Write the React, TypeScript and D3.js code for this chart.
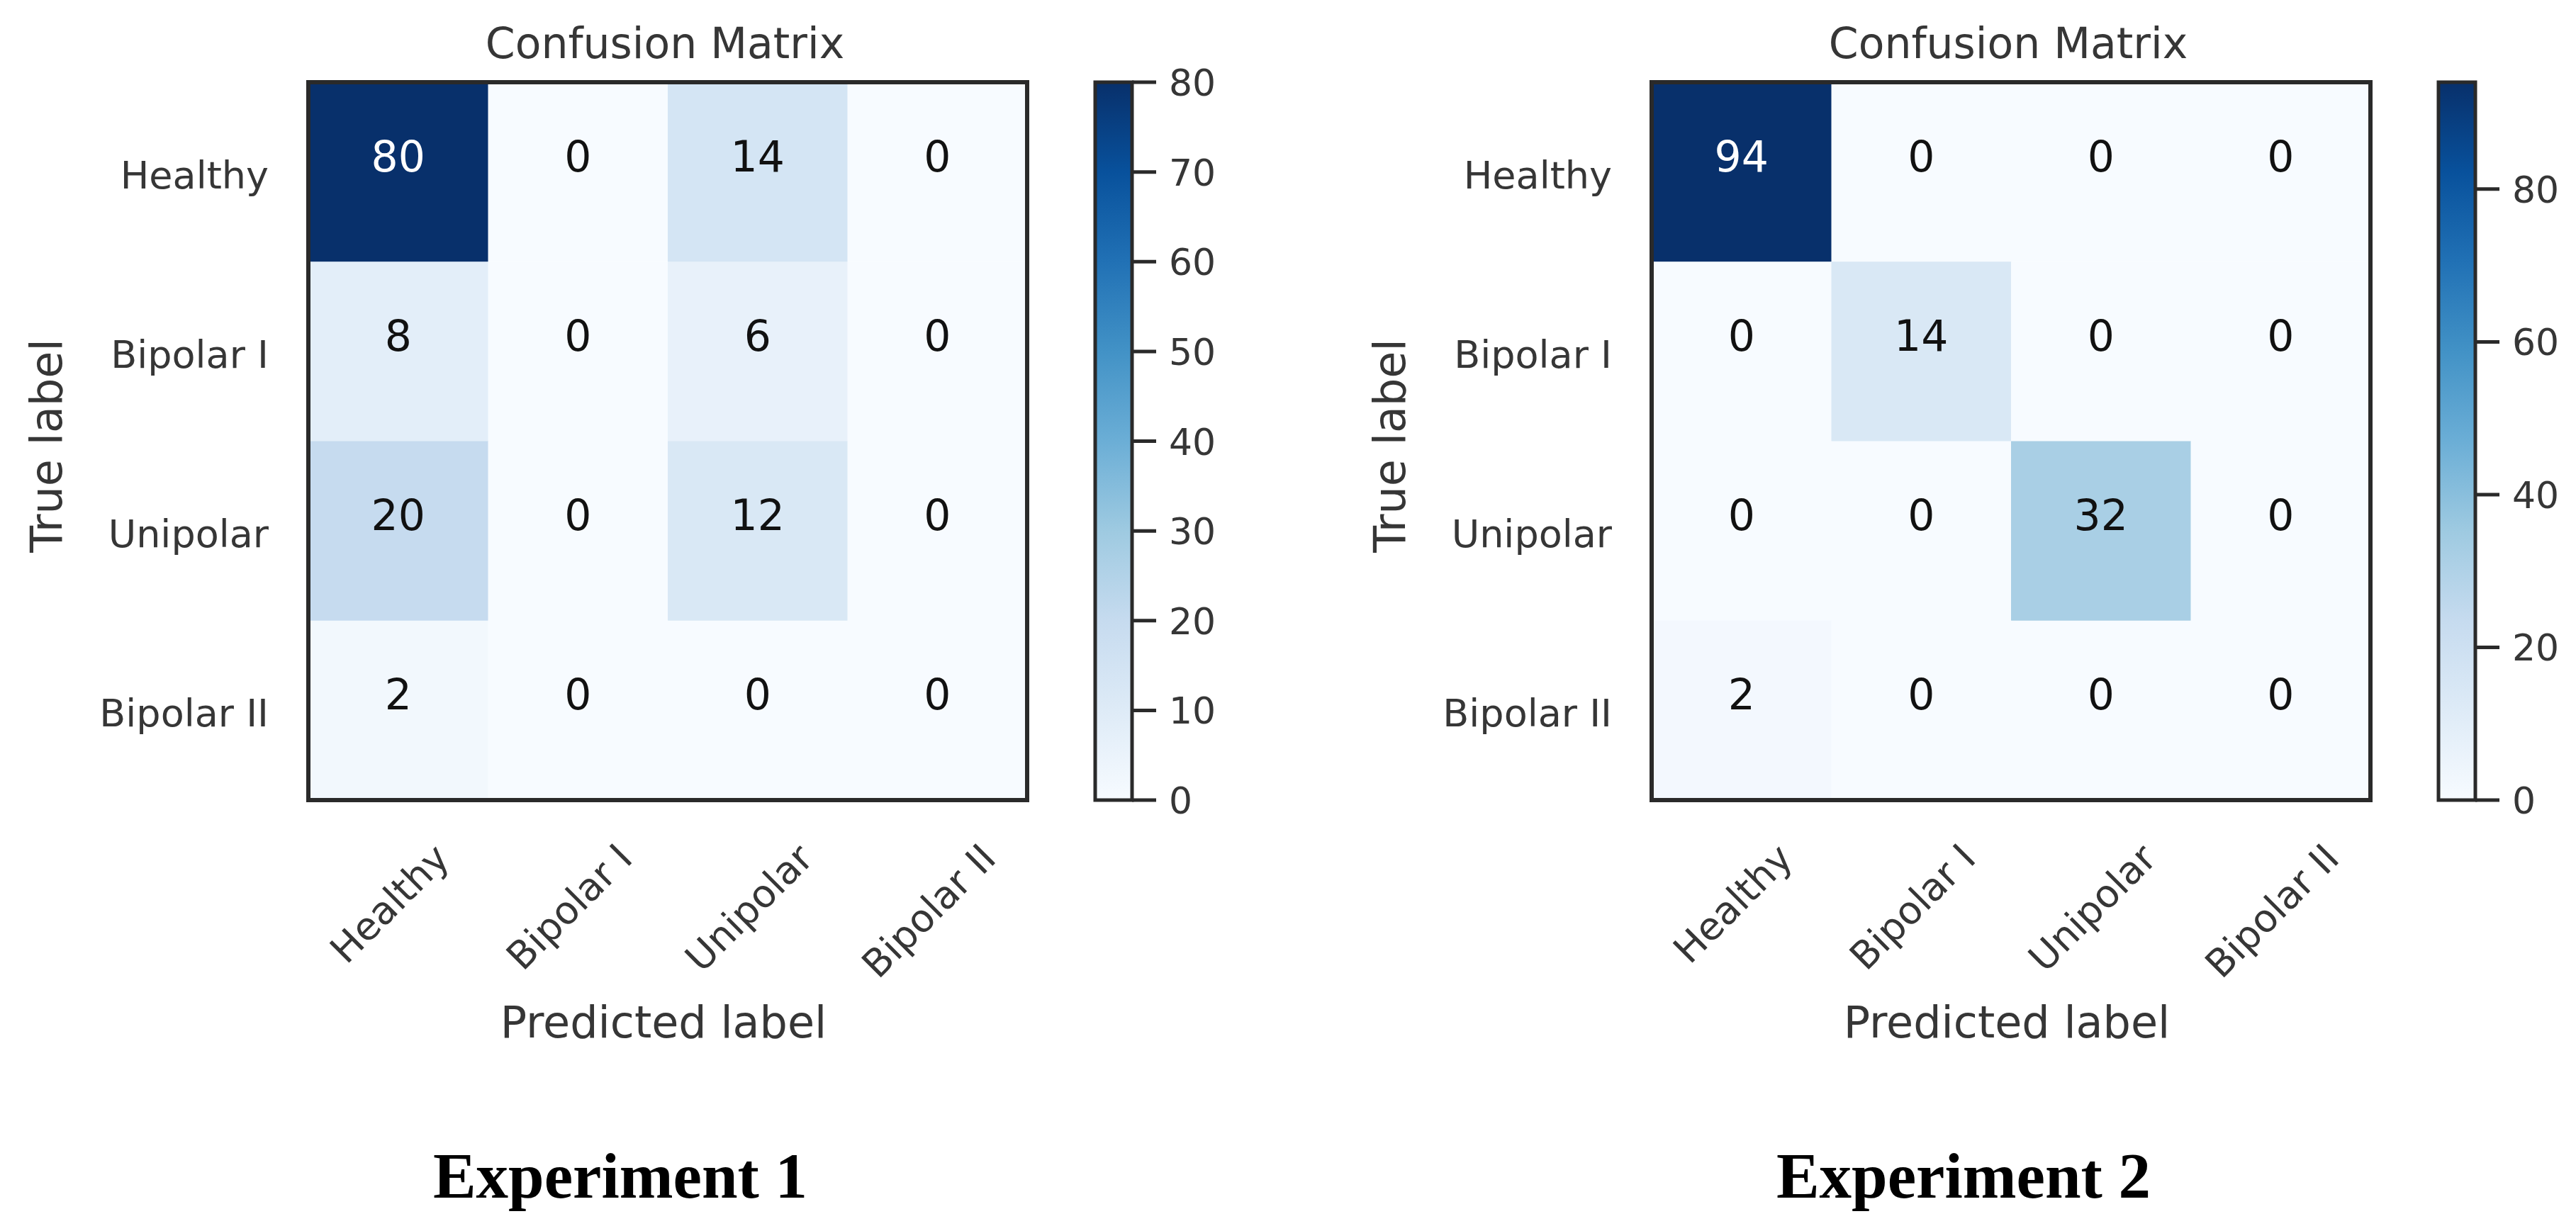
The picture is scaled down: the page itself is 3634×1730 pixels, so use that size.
import React from "react";
import * as d3 from "d3";

// ---------- data ----------
const classLabels = ["Healthy", "Bipolar I", "Unipolar", "Bipolar II"];

const exp1Matrix = [
  [80, 0, 14, 0],
  [8, 0, 6, 0],
  [20, 0, 12, 0],
  [2, 0, 0, 0],
];
const exp2Matrix = [
  [94, 0, 0, 0],
  [0, 14, 0, 0],
  [0, 0, 32, 0],
  [2, 0, 0, 0],
];
const exp1ColorbarTicks = [0, 10, 20, 30, 40, 50, 60, 70, 80];
const exp2ColorbarTicks = [0, 20, 40, 60, 80];

const panelTitle = "Confusion Matrix";
const xAxisTitle = "Predicted label";
const yAxisTitle = "True label";
const captions = ["Experiment 1", "Experiment 2"];

// matplotlib "Blues" anchor colours
const bluesStops = [
  "#f7fbff", "#deebf7", "#c6dbef", "#9ecae1", "#6baed6",
  "#4292c6", "#2171b5", "#08519c", "#08306b",
];

// ---------- layout ----------
const W = 3634;
const H = 1730;
const PANEL_DX = 1895;
const HM_X = 435;
const HM_Y = 116;
const HM_W = 1014;
const HM_H = 1013;
const CB_X = 1545;
const CB_W = 52;

const SANS = "'DejaVu Sans', 'Noto Sans', sans-serif";
const SERIF = "'Liberation Serif', 'Times New Roman', serif";
const LABEL_COLOR = "#363636";
const FRAME_COLOR = "#2a2a2a";

let measureCtx: CanvasRenderingContext2D | null = null;
function textWidth(s: string, size: number): number {
  if (!measureCtx && typeof document !== "undefined") {
    const c = document.createElement("canvas");
    measureCtx = c.getContext("2d");
  }
  if (measureCtx) {
    measureCtx.font = `${size}px 'DejaVu Sans'`;
    return measureCtx.measureText(s).width;
  }
  return s.length * size * 0.58;
}

const blues = (t: number) => {
  const s = d3
    .scaleLinear<string>()
    .domain(bluesStops.map((_, i) => i / (bluesStops.length - 1)))
    .range(bluesStops)
    .interpolate(d3.interpolateRgb)
    .clamp(true);
  return s(t);
};

type PanelProps = {
  matrix: number[][];
  cbTicks: number[];
  caption: string;
  dx: number;
  id: string;
};

function Panel({ matrix, cbTicks, caption, dx, id }: PanelProps) {
  const vmax = d3.max(matrix.flat()) as number;
  const x = d3.scaleBand<string>().domain(classLabels).range([HM_X + dx, HM_X + dx + HM_W]);
  const y = d3.scaleBand<string>().domain(classLabels).range([HM_Y, HM_Y + HM_H]);
  const norm = d3.scaleLinear().domain([0, vmax]).range([0, 1]);
  const cbY = d3.scaleLinear().domain([0, vmax]).range([HM_Y + HM_H, HM_Y]);
  const thresh = vmax / 2;
  const bw = x.bandwidth();
  const bh = y.bandwidth();
  const cx0 = HM_X + dx + HM_W / 2;
  const cbx = CB_X + dx;

  return (
    <g>
      {/* title */}
      <text x={cx0 - 4} y={82} fontFamily={SANS} fontSize={60} fill={LABEL_COLOR} textAnchor="middle">
        {panelTitle}
      </text>

      {/* cells */}
      {matrix.map((row, ri) =>
        row.map((v, ci) => (
          <rect
            key={`c-${ri}-${ci}`}
            x={x(classLabels[ci])}
            y={y(classLabels[ri])}
            width={bw + 0.5}
            height={bh + 0.5}
            fill={blues(norm(v))}
          />
        ))
      )}
      {/* cell values */}
      {matrix.map((row, ri) =>
        row.map((v, ci) => (
          <text
            key={`t-${ri}-${ci}`}
            x={(x(classLabels[ci]) as number) + bw / 2}
            y={(y(classLabels[ri]) as number) + bh / 2 - 1}
            fontFamily={SANS}
            fontSize={60}
            textAnchor="middle"
            fill={v > thresh ? "#ffffff" : "#111111"}
          >
            {v}
          </text>
        ))
      )}
      {/* frame */}
      <rect x={HM_X + dx} y={HM_Y} width={HM_W} height={HM_H} fill="none" stroke={FRAME_COLOR} strokeWidth={6} />

      {/* y tick labels */}
      {classLabels.map((c) => (
        <text
          key={`y-${c}`}
          x={HM_X + dx - 56}
          y={(y(c) as number) + bh / 2 + 23}
          fontFamily={SANS}
          fontSize={54}
          textAnchor="end"
          fill={LABEL_COLOR}
        >
          {c}
        </text>
      ))}

      {/* x tick labels (rotated 45°) */}
      {classLabels.map((c) => {
        const w = textWidth(c, 54);
        const px = (x(c) as number) + bw / 2 - 12;
        const py = 1183 + ((w + 0.95 * 54) * Math.SQRT1_2) / 2;
        return (
          <text
            key={`x-${c}`}
            x={px}
            y={py}
            transform={`rotate(-45, ${px}, ${py})`}
            fontFamily={SANS}
            fontSize={54}
            textAnchor="middle"
            dominantBaseline="central"
            fill={LABEL_COLOR}
          >
            {c}
          </text>
        );
      })}

      {/* axis titles */}
      <text
        x={87 + dx}
        y={629}
        transform={`rotate(-90, ${87 + dx}, 629)`}
        fontFamily={SANS}
        fontSize={62}
        textAnchor="middle"
        fill={LABEL_COLOR}
      >
        {yAxisTitle}
      </text>
      <text x={cx0 - 6} y={1464} fontFamily={SANS} fontSize={62} textAnchor="middle" fill={LABEL_COLOR}>
        {xAxisTitle}
      </text>

      {/* colorbar */}
      <defs>
        <linearGradient id={`grad-${id}`} x1="0" y1="1" x2="0" y2="0">
          {bluesStops.map((col, i) => (
            <stop key={i} offset={`${(i / (bluesStops.length - 1)) * 100}%`} stopColor={col} />
          ))}
        </linearGradient>
      </defs>
      <rect x={cbx} y={HM_Y} width={CB_W} height={HM_H} fill={`url(#grad-${id})`} stroke={FRAME_COLOR} strokeWidth={5} />
      {cbTicks.map((t) => (
        <g key={`cb-${t}`}>
          <line x1={cbx + CB_W} x2={cbx + CB_W + 34} y1={cbY(t)} y2={cbY(t)} stroke={FRAME_COLOR} strokeWidth={5} />
          <text
            x={cbx + CB_W + 52}
            y={cbY(t) + 19}
            fontFamily={SANS}
            fontSize={52}
            fill={LABEL_COLOR}
          >
            {t}
          </text>
        </g>
      ))}

      {/* caption */}
      <text
        x={875 + dx}
        y={1690}
        fontFamily={SERIF}
        fontWeight="bold"
        fontSize={91}
        textAnchor="middle"
        fill="#000"
      >
        {caption}
      </text>
    </g>
  );
}

export default function App() {
  return (
    <svg
      width={W}
      height={H}
      viewBox={`0 0 ${W} ${H}`}
      style={{ position: "absolute", left: 0, top: 0, display: "block", background: "#fff" }}
    >
      <rect x={0} y={0} width={W} height={H} fill="#fff" />
      <Panel matrix={exp1Matrix} cbTicks={exp1ColorbarTicks} caption={captions[0]} dx={0} id="e1" />
      <Panel matrix={exp2Matrix} cbTicks={exp2ColorbarTicks} caption={captions[1]} dx={PANEL_DX} id="e2" />
    </svg>
  );
}
